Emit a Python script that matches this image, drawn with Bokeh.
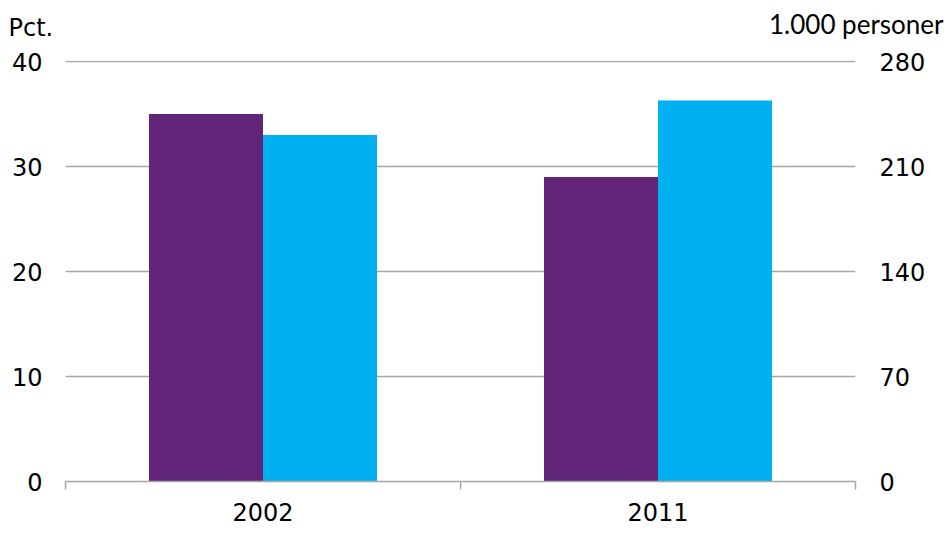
from bokeh.plotting import figure
from bokeh.models import (Range1d, LinearAxis, FixedTicker, Legend,
                          LegendItem, ColumnDataSource, Label)
from bokeh.embed import file_html
from bokeh.resources import INLINE

years = ["2002", "2011"]
andel = [35, 29]           # Pct. (left axis)
antal = [231, 254]         # 1.000 personer (right axis)
left_ticks = [0, 10, 20, 30, 40]
right_ticks = [0, 70, 140, 210, 280]
left_title = "Pct."
right_title = "1.000 personer"
series_names = ["Andel modtagere", "Antal modtagere (hj.akse)"]

PURPLE = "#61257A"
CYAN = "#00B0F0"
GRID = "#A6A6A6"
FONT = "DejaVu Sans"
FS = "24px"

centers = [i + 0.5 for i in range(len(years))]
bw = 0.2886
src = ColumnDataSource(dict(
    x1=[c - bw / 2 for c in centers],
    x2=[c + bw / 2 for c in centers],
    andel=andel, antal=antal))

p = figure(width=951, height=546, frame_width=790, frame_height=421,
           output_backend="svg", toolbar_location=None,
           x_range=Range1d(0, len(years)), y_range=Range1d(0, 40.1),
           min_border_left=65, min_border_right=96, min_border_top=60,
           min_border_bottom=65)
p.title.text = ""
p.outline_line_color = None
p.extra_y_ranges = {"right": Range1d(0, 280.7)}

r1 = p.vbar(x="x1", top="andel", width=bw, source=src, fill_color=PURPLE,
            line_color=None)
r2 = p.vbar(x="x2", top="antal", width=bw, source=src, fill_color=CYAN,
            line_color=None, y_range_name="right")

# x axis
xa = p.xaxis[0]
xa.ticker = FixedTicker(ticks=centers, minor_ticks=list(range(len(years) + 1)))
xa.major_label_overrides = {c: y for c, y in zip(centers, years)}
xa.major_tick_out = 0
xa.major_tick_in = 0
xa.minor_tick_out = 8
xa.minor_tick_in = 0
xa.minor_tick_line_color = GRID
xa.minor_tick_line_width = 1.5
xa.axis_line_color = GRID
xa.axis_line_width = 1.5
xa.major_label_text_font = FONT
xa.major_label_text_font_size = FS
xa.major_label_text_color = "black"
xa.major_label_standoff = 13

# left axis
ya = p.yaxis[0]
ya.ticker = FixedTicker(ticks=left_ticks)
ya.axis_line_color = None
ya.major_tick_out = 0
ya.major_tick_in = 0
ya.minor_tick_line_color = None
ya.major_label_standoff = 23
ya.major_label_text_font = FONT
ya.major_label_text_font_size = FS
ya.major_label_text_color = "black"

# right axis
ra = LinearAxis(y_range_name="right", ticker=FixedTicker(ticks=right_ticks))
ra.axis_line_color = None
ra.major_tick_out = 0
ra.major_tick_in = 0
ra.minor_tick_line_color = None
ra.major_label_standoff = 24
ra.major_label_text_font = FONT
ra.major_label_text_font_size = FS
ra.major_label_text_color = "black"
p.add_layout(ra, "right")

p.xgrid.grid_line_color = None
p.ygrid.ticker = FixedTicker(ticks=left_ticks)
p.ygrid.grid_line_color = GRID
p.ygrid.grid_line_width = 1.5

# axis units, placed above the top ends of the two value axes
p.add_layout(Label(x=0, y=40, x_units="data", y_units="data", text=left_title,
                   x_offset=-57, y_offset=34, text_align="left",
                   text_baseline="alphabetic", text_font=FONT,
                   text_font_size=FS, text_color="black"), "above")
p.add_layout(Label(x=len(years), y=40, x_units="data", y_units="data",
                   text=right_title, x_offset=88, y_offset=38,
                   text_align="right", text_baseline="alphabetic",
                   text_font="Lato", text_font_size="26px",
                   text_color="black"), "above")

legend = Legend(items=[LegendItem(label=series_names[0], renderers=[r1]),
                       LegendItem(label=series_names[1], renderers=[r2])],
                location="center", orientation="horizontal",
                glyph_width=18, glyph_height=20, label_standoff=5, spacing=42,
                padding=0, margin=-9, border_line_color=None,
                background_fill_alpha=0, label_text_font=FONT,
                label_text_font_size=FS, label_text_color="black",
                label_text_baseline="alphabetic", label_height=10)
p.add_layout(legend, "below")

open("out.html", "w").write(file_html(p, INLINE))
